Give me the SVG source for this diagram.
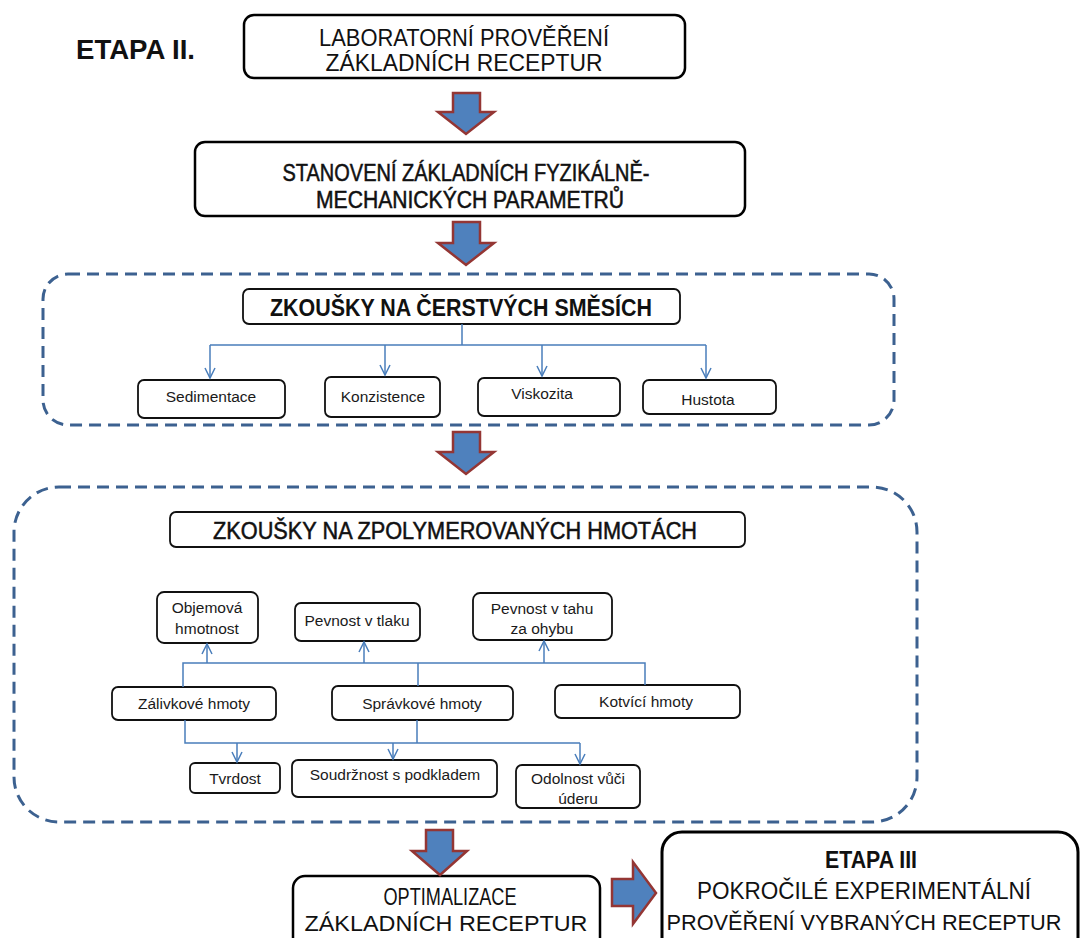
<svg xmlns="http://www.w3.org/2000/svg" width="1081" height="938" viewBox="0 0 1081 938">
<style>
.box{fill:#fff;stroke:#000;stroke-width:2.5}
.sbox{fill:#fff;stroke:#111;stroke-width:1.8}
.dash{fill:none;stroke:#3c6190;stroke-width:3;stroke-dasharray:12 7}
.blk{fill:#4f81bd;stroke:#943634;stroke-width:2.5;stroke-linejoin:miter}
.con{fill:none;stroke:#4a7ebb;stroke-width:1.5}
.big{font-family:"Liberation Sans",Arial,sans-serif;font-size:23px;fill:#111;text-anchor:middle}
.low{font-size:22px}
.semi{stroke:#111;stroke-width:0.5}
.bold{font-weight:bold}
.sm{font-family:"Liberation Sans",Arial,sans-serif;font-size:15.5px;fill:#1a1a1a;text-anchor:middle}
</style>
<defs>
<marker id="ah" markerUnits="userSpaceOnUse" markerWidth="20" markerHeight="20" viewBox="-10 -10 20 20" refX="0" refY="0" orient="auto" overflow="visible">
<path d="M-10,-5 L0,0 L-10,5" fill="none" stroke="#4a7ebb" stroke-width="1.5"/>
</marker>
</defs>

<g id="title">
<text x="76" y="59" font-family="Liberation Sans,Arial,sans-serif" font-size="27" font-weight="bold" fill="#111" textLength="119" lengthAdjust="spacingAndGlyphs">ETAPA II.</text>
</g>

<g id="groups">
<rect class="dash" x="43" y="274" width="851" height="151" rx="25"/>
<rect class="dash" x="14" y="487" width="903" height="335" rx="45"/>
</g>

<g id="n-lab">
<rect class="box" x="244" y="15" width="441" height="63" rx="10"/>
<text class="big" x="464" y="46" textLength="290" lengthAdjust="spacingAndGlyphs">LABORATORNÍ PROVĚŘENÍ</text>
<text class="big" x="464" y="71" textLength="277" lengthAdjust="spacingAndGlyphs">ZÁKLADNÍCH RECEPTUR</text>
</g>

<g id="n-stan">
<rect class="box" x="195" y="142" width="550" height="74" rx="10"/>
<text class="big semi" x="466" y="181" textLength="367" lengthAdjust="spacingAndGlyphs">STANOVENÍ ZÁKLADNÍCH FYZIKÁLNĚ-</text>
<text class="big semi" x="470" y="208" textLength="308" lengthAdjust="spacingAndGlyphs">MECHANICKÝCH PARAMETRŮ</text>
</g>

<g id="n-cerst">
<rect class="sbox" x="243" y="289" width="437" height="35" rx="6"/>
<text class="big bold" x="461" y="316" textLength="382" lengthAdjust="spacingAndGlyphs">ZKOUŠKY NA ČERSTVÝCH SMĚSÍCH</text>
</g>
<g id="n-sed"><rect class="sbox" x="138" y="380" width="147" height="38" rx="6"/><text class="sm" x="211" y="402">Sedimentace</text></g>
<g id="n-kon"><rect class="sbox" x="325" y="377" width="115" height="40" rx="6"/><text class="sm" x="383" y="402">Konzistence</text></g>
<g id="n-vis"><rect class="sbox" x="478" y="378" width="142" height="38" rx="6"/><text class="sm" x="542" y="399">Viskozita</text></g>
<g id="n-hus"><rect class="sbox" x="643" y="380" width="133" height="34" rx="6"/><text class="sm" x="708" y="405">Hustota</text></g>

<g id="n-zpol">
<rect class="sbox" x="170" y="512" width="575" height="35" rx="6"/>
<text class="big semi" x="455" y="539" textLength="484" lengthAdjust="spacingAndGlyphs">ZKOUŠKY NA ZPOLYMEROVANÝCH HMOTÁCH</text>
</g>
<g id="n-obj"><rect class="sbox" x="157" y="592" width="101" height="51" rx="7"/><text class="sm" x="207" y="613">Objemová</text><text class="sm" x="207" y="634">hmotnost</text></g>
<g id="n-tlak"><rect class="sbox" x="295" y="603" width="125" height="38" rx="6"/><text class="sm" x="357" y="626">Pevnost v tlaku</text></g>
<g id="n-tah"><rect class="sbox" x="473" y="593" width="139" height="47" rx="7"/><text class="sm" x="542" y="614">Pevnost v tahu</text><text class="sm" x="542" y="634">za ohybu</text></g>
<g id="n-zal"><rect class="sbox" x="112" y="687" width="164" height="33" rx="6"/><text class="sm" x="194" y="709">Zálivkové hmoty</text></g>
<g id="n-spr"><rect class="sbox" x="332" y="686" width="181" height="34" rx="6"/><text class="sm" x="422" y="709">Správkové hmoty</text></g>
<g id="n-kot"><rect class="sbox" x="555" y="685" width="185" height="33" rx="6"/><text class="sm" x="646" y="707">Kotvící hmoty</text></g>
<g id="n-tvr"><rect class="sbox" x="190" y="763" width="90" height="30" rx="5"/><text class="sm" x="235" y="784">Tvrdost</text></g>
<g id="n-sou"><rect class="sbox" x="292" y="760" width="205" height="37" rx="6"/><text class="sm" x="395" y="780">Soudržnost s podkladem</text></g>
<g id="n-odo"><rect class="sbox" x="516" y="765" width="124" height="43" rx="6"/><text class="sm" x="578" y="784">Odolnost vůči</text><text class="sm" x="578" y="804">úderu</text></g>

<g id="n-opt">
<rect class="box" x="293" y="876" width="307" height="80" rx="12"/>
<text class="big" x="450" y="905" textLength="133" lengthAdjust="spacingAndGlyphs">OPTIMALIZACE</text>
<text class="big low" x="446" y="931" textLength="283" lengthAdjust="spacingAndGlyphs">ZÁKLADNÍCH RECEPTUR</text>
</g>

<g id="n-etapa3">
<rect x="662" y="832" width="416" height="130" rx="20" fill="#fff" stroke="#000" stroke-width="3"/>
<text class="big bold" x="871" y="868" textLength="92" lengthAdjust="spacingAndGlyphs">ETAPA III</text>
<text class="big" x="864" y="899" textLength="334" lengthAdjust="spacingAndGlyphs">POKROČILÉ EXPERIMENTÁLNÍ</text>
<text class="big low" x="864" y="930" textLength="395" lengthAdjust="spacingAndGlyphs">PROVĚŘENÍ VYBRANÝCH RECEPTUR</text>
</g>

<g id="connectors">
<path class="blk" d="M453,93 H480 V112 H494 L466,134 L438,112 H453 Z"/>
<path class="blk" d="M453,222 H480 V243 H494 L466,265 L438,243 H453 Z"/>
<path class="blk" d="M453,432 H480 V452 H494 L466,474 L438,452 H453 Z"/>
<path class="blk" d="M426,830 H453 V851 H467 L440,875 L412,851 H426 Z"/>
<path class="blk" d="M612,879 H633 V862 L656,893 L633,924 V906 H612 Z"/>

<path class="con" d="M462,324 V345 M210,345 H706"/>
<path class="con" marker-end="url(#ah)" d="M210,345 V378"/>
<path class="con" marker-end="url(#ah)" d="M385,345 V375"/>
<path class="con" marker-end="url(#ah)" d="M542,345 V376"/>
<path class="con" marker-end="url(#ah)" d="M706,345 V378"/>

<path class="con" d="M183,687 V663 H645 V685 M418,663 V686"/>
<path class="con" marker-end="url(#ah)" d="M207,663 V644"/>
<path class="con" marker-end="url(#ah)" d="M364,663 V642"/>
<path class="con" marker-end="url(#ah)" d="M544,663 V641"/>

<path class="con" d="M185,720 V743 H580 M417,720 V743"/>
<path class="con" marker-end="url(#ah)" d="M237,743 V762"/>
<path class="con" marker-end="url(#ah)" d="M393,743 V759"/>
<path class="con" marker-end="url(#ah)" d="M580,743 V764"/>
</g>
</svg>
